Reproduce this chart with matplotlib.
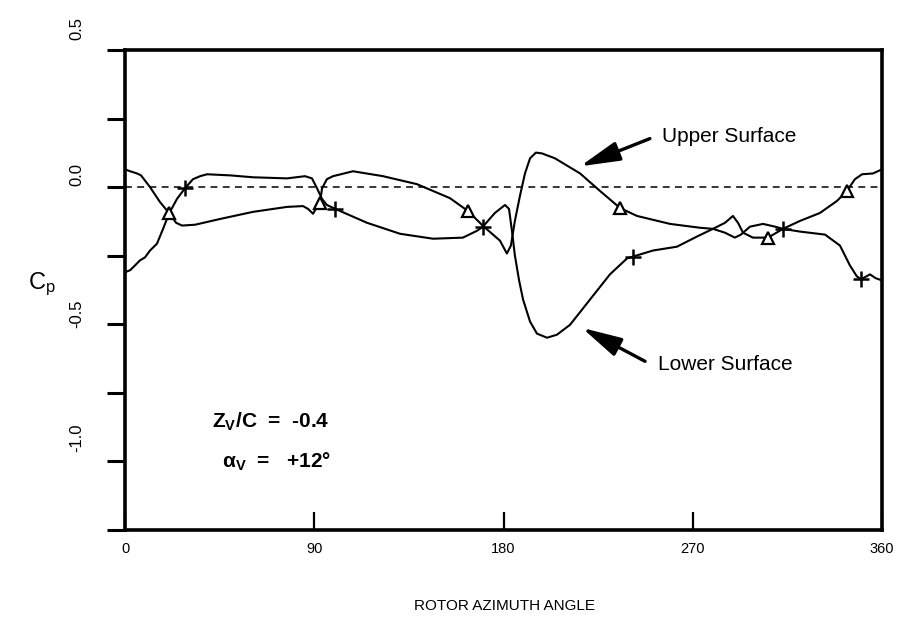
import matplotlib
matplotlib.use("Agg")
import matplotlib.pyplot as plt
from matplotlib.transforms import ScaledTranslation

plt.rcParams["font.family"] = ["Liberation Sans", "DejaVu Sans"]
plt.rcParams["mathtext.fontset"] = "custom"
plt.rcParams["mathtext.rm"] = "Liberation Sans"
plt.rcParams["mathtext.it"] = "Liberation Sans:italic"
plt.rcParams["mathtext.bf"] = "Liberation Sans:bold"

# Upper-surface pressure coefficient vs rotor azimuth (deg)
upper_psi = [0, 2.4, 5.7, 7.6, 11.9, 16.6, 20.9, 24.3, 27.1, 33.3, 45.2, 60.9,
             77.0, 84.6, 87.0, 89.4, 91.3, 92.7, 93.7, 96.0, 98.9, 108.4, 122.7,
             138.8, 154.5, 163.1, 170.2, 178.3, 181.6, 183.5, 185.4, 187.8,
             190.2, 192.6, 195.4, 198.3, 204.5, 216.4, 225.9, 235.4, 243.5,
             259.2, 273.4, 279.6, 285.3, 289.1, 291.5, 293.9, 298.6, 305.8,
             312.9, 321.0, 330.5, 338.6, 343.3, 347.1, 350.5, 355.7, 360]
upper_cp = [0.065, 0.058, 0.050, 0.043, 0.0, -0.054, -0.094, -0.130, -0.140,
            -0.137, -0.116, -0.090, -0.072, -0.069, -0.079, -0.097, -0.072,
            -0.058, -0.004, 0.029, 0.040, 0.058, 0.040, 0.011, -0.040, -0.087,
            -0.141, -0.195, -0.242, -0.213, -0.123, -0.032, 0.050, 0.105,
            0.126, 0.123, 0.105, 0.050, -0.014, -0.076, -0.105, -0.134,
            -0.148, -0.152, -0.130, -0.105, -0.130, -0.166, -0.184, -0.184,
            -0.152, -0.123, -0.094, -0.050, -0.014, 0.029, 0.047, 0.050, 0.065]

# Lower-surface pressure coefficient vs rotor azimuth (deg)
lower_psi = [0, 2.4, 4.8, 7.1, 9.5, 11.9, 15.2, 18.1, 20.9, 24.7, 28.5, 32.3,
             35.7, 39.0, 49.9, 60.9, 77.0, 85.6, 88.9, 91.3, 93.7, 96.0, 99.9,
             115.1, 130.8, 146.5, 160.7, 167.4, 170.2, 175.9, 180.7, 182.6,
             184.0, 185.4, 187.4, 189.3, 192.6, 195.9, 200.7, 205.4, 211.6,
             221.1, 230.6, 238.7, 241.6, 251.1, 262.5, 272.0, 279.6, 285.3,
             290.0, 292.9, 297.2, 303.4, 309.1, 312.9, 321.0, 332.9, 340.0,
             344.7, 348.0, 350.0, 354.3, 357.0, 360]
lower_cp = [-0.310, -0.303, -0.285, -0.267, -0.256, -0.231, -0.206, -0.152,
            -0.097, -0.043, -0.004, 0.029, 0.040, 0.047, 0.043, 0.036, 0.032,
            0.040, 0.032, -0.004, -0.043, -0.065, -0.079, -0.130, -0.170,
            -0.188, -0.184, -0.159, -0.144, -0.094, -0.065, -0.079, -0.159,
            -0.249, -0.340, -0.410, -0.490, -0.534, -0.549, -0.538, -0.502,
            -0.410, -0.318, -0.260, -0.253, -0.231, -0.217, -0.180, -0.152,
            -0.166, -0.184, -0.173, -0.144, -0.134, -0.144, -0.152, -0.162,
            -0.173, -0.213, -0.285, -0.325, -0.336, -0.318, -0.332, -0.340]

# Marked measurement stations
upper_mark_psi = [20.9, 92.7, 163.1, 235.4, 305.8, 343.3]
upper_mark_cp = [-0.094, -0.058, -0.087, -0.076, -0.184, -0.014]
lower_mark_psi = [28.5, 99.9, 170.2, 241.6, 312.9, 350.0]
lower_mark_cp = [-0.004, -0.079, -0.144, -0.253, -0.152, -0.336]

x_ticks = [0, 90, 180, 270, 360]
x_tick_labels = ["0", "90", "180", "270", "360"]
y_major = [0.5, 0.0, -0.5, -1.0]
y_major_labels = ["0.5", "0.0", "-0.5", "-1.0"]
y_minor = [0.25, -0.25, -0.75, -1.25]

fig = plt.figure(figsize=(9.04, 6.23), dpi=100)
ax = fig.add_axes([0.1383, 0.1493, 0.8374, 0.7704])
ax.set_xlim(0, 360)
ax.set_ylim(-1.25, 0.5)

ax.axhline(0.0, color="black", lw=1.1, ls=(0, (4.5, 3.5)), zorder=1)
ax.plot(upper_psi, upper_cp, color="black", lw=1.5, zorder=2)
ax.plot(lower_psi, lower_cp, color="black", lw=1.5, zorder=2)
ax.plot(upper_mark_psi, upper_mark_cp, ls="none", marker="^", ms=9,
        mfc="white", mec="black", mew=1.6, zorder=3)
ax.plot(lower_mark_psi, lower_mark_cp, ls="none", marker="+", ms=11,
        color="black", mew=1.8, zorder=3)

for side in ("left", "right", "top", "bottom"):
    ax.spines[side].set_linewidth(2.6)

ax.set_xticks(x_ticks)
ax.set_xticklabels(x_tick_labels, fontsize=10.5)
ax.tick_params(axis="x", direction="in", length=13, width=1.6, pad=9)
ax.set_yticks(y_major)
ax.set_yticklabels(y_major_labels, fontsize=12, rotation=90, va="center")
ax.set_yticks(y_minor, minor=True)
ax.tick_params(axis="y", which="both", direction="out", length=13,
               width=2.2, pad=16)

label_shift = [22, 13, 11, 24]
for lab, dy in zip(ax.get_yticklabels(), label_shift):
    lab.set_transform(lab.get_transform() +
                      ScaledTranslation(0, dy / 100, fig.dpi_scale_trans))

fig.text(42 / 904, 1 - 284 / 623, r"C$_\mathrm{p}$", fontsize=17,
         ha="center", va="center")
fig.text(505 / 904, 1 - 606 / 623, "ROTOR AZIMUTH ANGLE", fontsize=11,
         ha="center", va="center")

ax.text(41.5, -0.855, r"Z$_\mathbf{V}$/C  =  -0.4", fontsize=15,
        fontweight="bold", ha="left", va="center")
ax.text(46, -1.0, r"α$_\mathbf{V}$  =   +12°", fontsize=15,
        fontweight="bold", ha="left", va="center")

arrow_style = dict(arrowstyle="-|>,head_length=1.1,head_width=0.27",
                   mutation_scale=22, lw=2.4, color="black",
                   shrinkA=0, shrinkB=0)
ax.annotate("", xy=(216.4, 0.076), xytext=(249.6, 0.177),
            arrowprops=arrow_style)
ax.annotate("", xy=(217.3, -0.513), xytext=(247.3, -0.635),
            arrowprops=arrow_style)
ax.text(255.5, 0.184, "Upper Surface", fontsize=15, ha="left",
        va="center")
ax.text(253.5, -0.646, "Lower Surface", fontsize=15, ha="left",
        va="center")

fig.savefig("out.png", dpi=100)
